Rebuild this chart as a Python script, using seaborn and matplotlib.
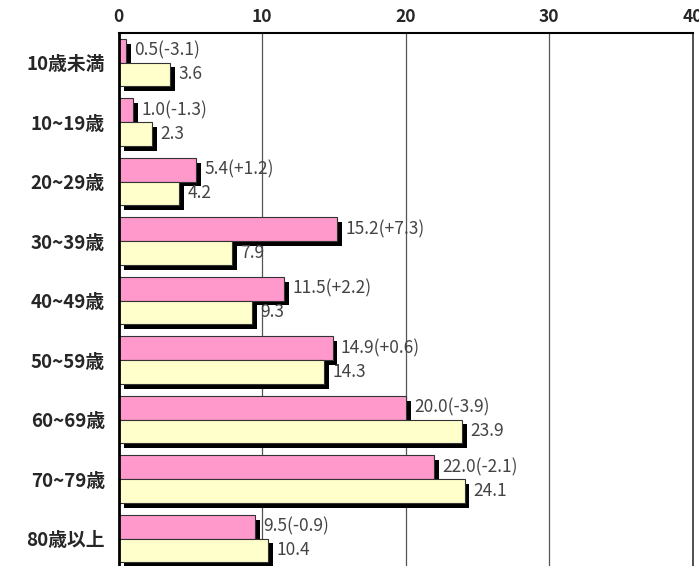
import pandas as pd
import matplotlib.pyplot as plt
import matplotlib.patheffects as pe
import seaborn as sns

# データ
categories = ['10歳未満', '10~19歳', '20~29歳', '30~39歳', '40~49歳',
              '50~59歳', '60~69歳', '70~79歳', '80歳以上']
current = [0.5, 1.0, 5.4, 15.2, 11.5, 14.9, 20.0, 22.0, 9.5]
change = ['-3.1', '-1.3', '+1.2', '+7.3', '+2.2', '+0.6', '-3.9', '-2.1', '-0.9']
previous = [3.6, 2.3, 4.2, 7.9, 9.3, 14.3, 23.9, 24.1, 10.4]
x_ticks = [0, 10, 20, 30, 40]

df = pd.DataFrame({'年齢': categories * 2,
                   '値': current + previous,
                   '系列': ['今回'] * len(categories) + ['前回'] * len(categories)})

sns.set_theme(style="white")
plt.rcParams['font.family'] = ['Noto Sans CJK JP', 'DejaVu Sans']

fig = plt.figure(figsize=(6.99, 5.66), dpi=100)
ax = fig.add_axes([0.170, -0.004, 0.821, 0.946])

sns.barplot(data=df, y='年齢', x='値', hue='系列', orient='h',
            palette=['#FF99CC', '#FFFFCC'], saturation=1, width=0.8, dodge=True,
            edgecolor='#333333', linewidth=0.8, legend=False, ax=ax)

shadow = [pe.SimplePatchShadow(offset=(3.5, -3.5), shadow_rgbFace='black', alpha=1.0),
          pe.Normal()]
for p in ax.patches:
    p.set_path_effects(shadow)

labels_cur = [f'{v:.1f}({c})' for v, c in zip(current, change)]
labels_prev = [f'{v:.1f}' for v in previous]
ax.bar_label(ax.containers[0], labels=labels_cur, padding=6, fontsize=12.5, color='#444444')
ax.bar_label(ax.containers[1], labels=labels_prev, padding=6, fontsize=12.5, color='#444444')

ax.set_xlim(0, 40)
ax.set_xticks(x_ticks)
ax.xaxis.tick_top()
ax.tick_params(axis='x', length=0, pad=5, labelsize=12.5)
ax.tick_params(axis='y', length=0, pad=10, labelsize=13.5)
for t in ax.get_xticklabels() + ax.get_yticklabels():
    t.set_fontweight('bold')
ax.set_xlabel('')
ax.set_ylabel('')
ax.xaxis.grid(True, color='#555555', linewidth=0.9)
ax.set_axisbelow(True)

ax.spines['left'].set_linewidth(2)
ax.spines['left'].set_color('black')
ax.spines['top'].set_linewidth(1.5)
ax.spines['top'].set_color('black')
ax.spines['right'].set_linewidth(1.2)
ax.spines['right'].set_color('#333333')
ax.spines['bottom'].set_visible(False)

plt.savefig('out.png', dpi=100)
